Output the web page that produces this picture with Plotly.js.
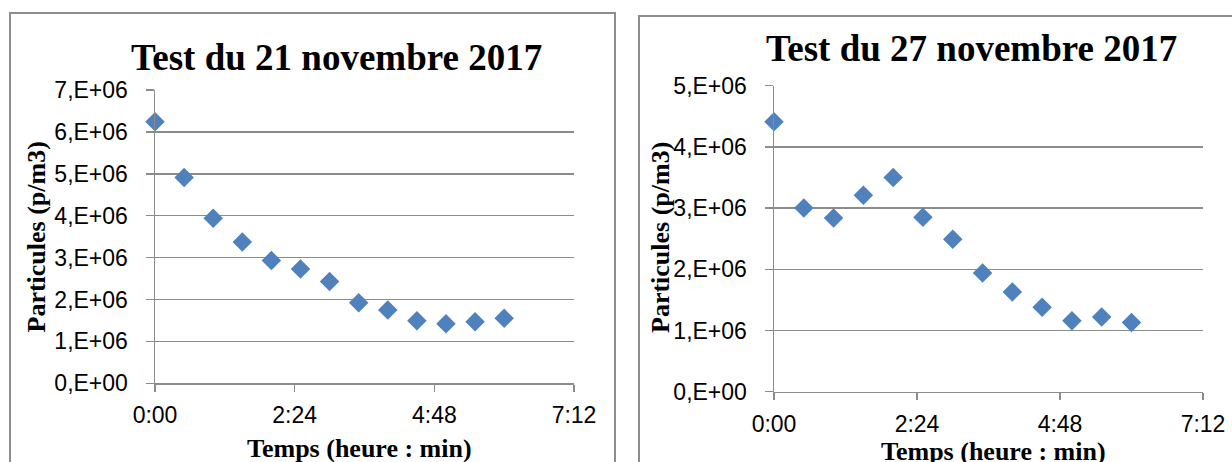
<!DOCTYPE html>
<html>
<head>
<meta charset="utf-8">
<script src="https://cdn.plot.ly/plotly-3.0.1.min.js"></script>
<style>html,body{margin:0;padding:0;background:#fff;}#chart{width:1232px;height:462px;}</style>
</head>
<body>
<div id="chart"></div>
<script>
// Time in hours (every 30 min)
const times = [0, 0.5, 1, 1.5, 2, 2.5, 3, 3.5, 4, 4.5, 5, 5.5, 6];
// Particles (p/m3)
const test21 = [6.24e6, 4.91e6, 3.94e6, 3.37e6, 2.93e6, 2.73e6, 2.43e6, 1.92e6, 1.75e6, 1.49e6, 1.42e6, 1.47e6, 1.55e6];
const test27 = [4.41e6, 3.00e6, 2.84e6, 3.21e6, 3.50e6, 2.85e6, 2.49e6, 1.94e6, 1.63e6, 1.38e6, 1.16e6, 1.22e6, 1.13e6];
const xTickVals = [0, 2.4, 4.8, 7.2];
const xTickText = ["0:00", "2:24", "4:48", "7:12"];
const y1TickVals = [0, 1e6, 2e6, 3e6, 4e6, 5e6, 6e6, 7e6];
const y1TickText = ["0,E+00", "1,E+06", "2,E+06", "3,E+06", "4,E+06", "5,E+06", "6,E+06", "7,E+06"];
const y2TickVals = [0, 1e6, 2e6, 3e6, 4e6, 5e6];
const y2TickText = ["0,E+00", "1,E+06", "2,E+06", "3,E+06", "4,E+06", "5,E+06"];
const title1 = "Test du 21 novembre 2017";
const title2 = "Test du 27 novembre 2017";
const yTitle = "Particules (p/m3)";
const xTitle = "Temps (heure : min)";

const W = 1232, H = 462;
const px = v => v / W;
const py = v => 1 - v / H;

const markerStyle = {symbol: 'diamond', size: 15, color: '#4F81BD', line: {width: 0}};
const traces = [
  {x: times, y: test21, xaxis: 'x', yaxis: 'y', type: 'scatter', mode: 'markers', marker: markerStyle, cliponaxis: false, showlegend: false},
  {x: times, y: test27, xaxis: 'x2', yaxis: 'y2', type: 'scatter', mode: 'markers', marker: markerStyle, cliponaxis: false, showlegend: false}
];

const gridC = '#8c8c8c';
const tickFont = {family: 'Liberation Sans, Arial, sans-serif', size: 23, color: '#000'};
function xAxis(d0, d1, anchor) {
  return {domain: [px(d0), px(d1)], anchor: anchor, range: [0, 7.2], tickmode: 'array',
    tickvals: xTickVals, ticktext: xTickText, showgrid: false, zeroline: false,
    showline: true, linecolor: gridC, linewidth: 1.5, ticks: 'outside', ticklen: 7,
    tickcolor: gridC, tickwidth: 1.5, tickfont: tickFont, ticklabelstandoff: 4, fixedrange: true};
}
function yAxis(d0, d1, anchor, max, vals, text) {
  return {domain: [py(d1), py(d0)], anchor: anchor, range: [0, max], tickmode: 'array',
    tickvals: vals, ticktext: text, showgrid: true, gridcolor: gridC, gridwidth: 1.5,
    zeroline: false, showline: true, linecolor: gridC, linewidth: 1.5, ticks: 'outside',
    ticklen: 8, tickcolor: gridC, tickwidth: 1.5, tickfont: tickFont, ticklabelstandoff: 13, fixedrange: true};
}

const titleFont = {family: 'Liberation Serif, Times New Roman, serif', size: 37, color: '#000'};
const axTitleFont = {family: 'Liberation Serif, Times New Roman, serif', size: 26, color: '#000'};

const layout = {
  width: W, height: H,
  margin: {l: 0, r: 0, t: 0, b: 0},
  paper_bgcolor: '#fff', plot_bgcolor: 'rgba(0,0,0,0)',
  showlegend: false,
  xaxis: xAxis(155, 574, 'y'),
  yaxis: yAxis(90, 383.3, 'x', 7e6, y1TickVals, y1TickText),
  xaxis2: xAxis(774, 1203, 'y2'),
  yaxis2: yAxis(85.7, 391.7, 'x2', 5e6, y2TickVals, y2TickText),
  shapes: [
    {type: 'rect', xref: 'paper', yref: 'paper', x0: px(10), x1: px(615), y0: py(13), y1: -0.2, line: {color: '#8e8e8e', width: 2}, fillcolor: 'rgba(0,0,0,0)', layer: 'below'},
    {type: 'rect', xref: 'paper', yref: 'paper', x0: px(639), x1: 1.2, y0: py(16), y1: -0.2, line: {color: '#8e8e8e', width: 2}, fillcolor: 'rgba(0,0,0,0)', layer: 'below'}
  ],
  annotations: [
    {text: '<b>' + title1 + '</b>', xref: 'paper', yref: 'paper', x: px(336), y: py(58), xanchor: 'center', yanchor: 'middle', showarrow: false, font: titleFont},
    {text: '<b>' + title2 + '</b>', xref: 'paper', yref: 'paper', x: px(971), y: py(48), xanchor: 'center', yanchor: 'middle', showarrow: false, font: titleFont},
    {text: '<b>' + yTitle + '</b>', xref: 'paper', yref: 'paper', x: px(36), y: py(237.5), xanchor: 'center', yanchor: 'middle', textangle: -90, showarrow: false, font: axTitleFont},
    {text: '<b>' + yTitle + '</b>', xref: 'paper', yref: 'paper', x: px(660), y: py(238), xanchor: 'center', yanchor: 'middle', textangle: -90, showarrow: false, font: axTitleFont},
    {text: '<b>' + xTitle + '</b>', xref: 'paper', yref: 'paper', x: px(359), y: py(448), xanchor: 'center', yanchor: 'middle', showarrow: false, font: axTitleFont},
    {text: '<b>' + xTitle + '</b>', xref: 'paper', yref: 'paper', x: px(993), y: py(451), xanchor: 'center', yanchor: 'middle', showarrow: false, font: axTitleFont}
  ]
};

Plotly.newPlot('chart', traces, layout, {staticPlot: true, displayModeBar: false});
</script>
</body>
</html>
